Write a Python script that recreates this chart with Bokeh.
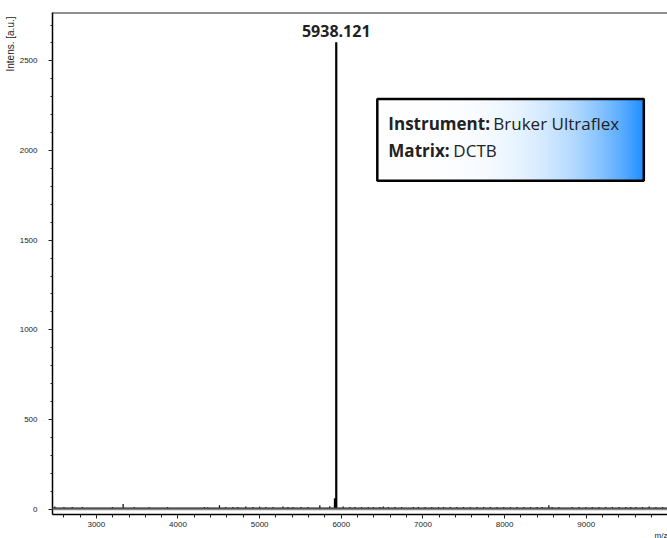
import numpy as np
from bokeh.plotting import figure
from bokeh.models import (Label, Span, BoxAnnotation, SingleIntervalTicker, Range1d, Title)
from bokeh.embed import file_html
from bokeh.resources import INLINE

# ---- data ----
main_peak_mz = 5938.121
main_peak_intensity = 2604
shoulder_mz = [5921]
shoulder_intensity = [60]

noise_mz = [2492, 2603, 2705, 2828, 3197, 3328, 3463, 3648, 3872, 4323, 4364, 4508,
            4585, 4671, 4733, 4831, 4917, 4999, 5077, 5163, 5286, 5347, 5408, 5507,
            5593, 5737, 5859, 6023, 6105, 6167, 6248, 6330, 6392, 6474, 6514, 6576,
            6658, 6739, 6883, 6944, 7027, 7108, 7190, 7252, 7334, 7415, 7497, 7580,
            7661, 7743, 7825, 7907, 7989, 8071, 8152, 8235, 8317, 8398, 8460, 8542,
            8582, 8665, 8828, 8911, 8993, 9074, 9156, 9239, 9320, 9402, 9485, 9546,
            9607, 9688, 9770, 9853, 9934]
noise_intensity = [14, 12, 12, 12, 12, 28, 12, 10, 12, 12, 10, 22,
                   12, 12, 12, 14, 12, 14, 12, 12, 14, 12, 12, 12,
                   12, 22, 16, 14, 12, 12, 12, 12, 12, 12, 14, 12,
                   12, 12, 12, 12, 12, 12, 12, 12, 12, 12, 12, 12,
                   12, 12, 12, 12, 12, 12, 12, 12, 12, 12, 12, 22,
                   12, 12, 12, 12, 12, 12, 12, 12, 12, 12, 12, 12,
                   12, 12, 14, 12, 12]

peak_label = "5938.121"
info_lines = [("Instrument:", "Bruker Ultraflex"), ("Matrix:", "DCTB")]
x_label = "m/z"
y_label = "Intens. [a.u.]"

x_start, x_end = 2463, 9995
y_start, y_end = -30, 2770

# ---- figure ----
p = figure(width=667, height=538, output_backend="svg", toolbar_location=None,
           x_range=Range1d(x_start, x_end), y_range=Range1d(y_start, y_end),
           min_border_left=52, min_border_right=0, min_border_top=12,
           min_border_bottom=0)
p.outline_line_color = None
p.xgrid.visible = False
p.ygrid.visible = False
p.background_fill_color = "white"

# axes
p.xaxis.ticker = SingleIntervalTicker(interval=1000, num_minor_ticks=5)
p.yaxis.ticker = SingleIntervalTicker(interval=500, num_minor_ticks=5)
for ax in (p.xaxis[0], p.yaxis[0]):
    ax.axis_line_color = "black"
    ax.axis_line_width = 1.5
    ax.major_tick_line_color = "#222"
    ax.minor_tick_line_color = "#222"
    ax.major_tick_in = 0
    ax.minor_tick_in = 0
    ax.major_label_text_font = "Liberation Sans"
    ax.major_label_text_font_size = "8px"
    ax.major_label_text_color = "#222"
p.xaxis.major_tick_out = 4
p.xaxis.minor_tick_out = 3
p.xaxis.major_label_standoff = 3
p.yaxis.major_tick_out = 4
p.yaxis.minor_tick_out = 2
p.yaxis.major_label_standoff = 11

# axis titles
p.add_layout(Title(text=y_label, align="right", offset=4, standoff=2,
                   text_font="Liberation Sans", text_font_size="10px",
                   text_font_style="normal", text_color="#222"), "left")
p.add_layout(Title(text=x_label, align="right", offset=0, standoff=-2,
                   text_font="Liberation Sans", text_font_size="8px",
                   text_font_style="normal", text_color="#222"), "below")

# top border line
p.add_layout(Span(location=y_end, dimension="width", line_color="#222", line_width=2))
# baseline
p.add_layout(Span(location=0, dimension="width", line_color="#888", line_width=2.5))
p.add_layout(Span(location=6, dimension="width", line_color="#222", line_width=1))

# spectrum sticks
p.segment(x0=noise_mz, y0=[0] * len(noise_mz), x1=noise_mz, y1=noise_intensity,
          line_color="black", line_width=1.2)
p.segment(x0=shoulder_mz, y0=[0], x1=shoulder_mz, y1=shoulder_intensity,
          line_color="black", line_width=2)
p.segment(x0=[main_peak_mz], y0=[0], x1=[main_peak_mz], y1=[main_peak_intensity],
          line_color="black", line_width=2.2)

p.add_layout(Label(x=main_peak_mz, y=main_peak_intensity + 65, text=peak_label,
                   text_align="center", text_baseline="alphabetic",
                   text_font="Open Sans", text_font_style="bold", text_font_size="16px",
                   text_color="#222"))

# info box with gradient
box_l, box_r, box_b, box_t = 6441, 9705, 1831, 2287
ncols = 256
t = np.linspace(0, 1, ncols)
f = t ** 3.5
r = (255 * (1 - f) + 30 * f).astype(np.uint32)
g = (255 * (1 - f) + 144 * f).astype(np.uint32)
b = np.full(ncols, 255, dtype=np.uint32)
row = (255 << 24) | (b << 16) | (g << 8) | r
img = np.tile(row, (2, 1)).astype(np.uint32)
p.image_rgba(image=[img], x=box_l, y=box_b, dw=box_r - box_l, dh=box_t - box_b)
p.add_layout(BoxAnnotation(left=box_l, right=box_r, bottom=box_b, top=box_t,
                           fill_alpha=0, line_color="black", line_width=2.5,
                           line_alpha=1))

label_x = 6576
label_ys = [2151, 2003]
bold_widths = [105, 65]
for (bold_txt, norm_txt), ly, w in zip(info_lines, label_ys, bold_widths):
    p.add_layout(Label(x=label_x, y=ly, text=bold_txt, text_font="Open Sans",
                       text_font_style="bold", text_font_size="17px",
                       text_color="#222", text_baseline="alphabetic"))
    p.add_layout(Label(x=label_x, y=ly, x_offset=w, text=norm_txt,
                       text_font="Open Sans", text_font_size="17px", text_color="#222",
                       text_baseline="alphabetic"))

open("out.html", "w").write(file_html(p, INLINE))
